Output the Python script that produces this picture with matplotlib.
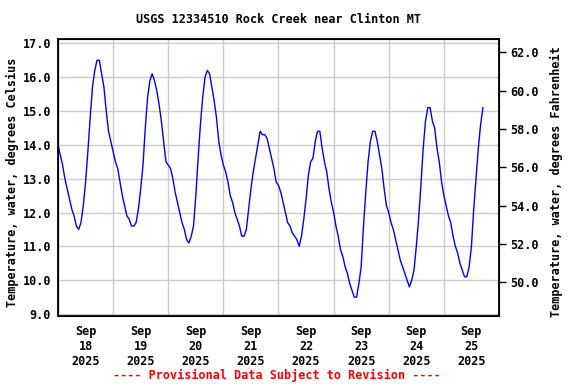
import numpy as np
import pandas as pd
import matplotlib
matplotlib.use('Agg')
import matplotlib.pyplot as plt
import matplotlib.dates as mdates

plt.rcParams['font.family'] = 'DejaVu Sans Mono'
plt.rcParams['font.weight'] = 'bold'

# hourly water temperature (deg C), starting 2025-09-18 00:00
day18 = [14.0, 13.7, 13.4, 13.0, 12.7, 12.4, 12.1, 11.9, 11.6, 11.5, 11.7, 12.2,
         12.9, 13.8, 14.8, 15.7, 16.2, 16.5, 16.5, 16.1, 15.7, 15.0, 14.4, 14.1]
day19 = [13.8, 13.5, 13.3, 12.9, 12.5, 12.2, 11.9, 11.8, 11.6, 11.6, 11.7, 12.1,
         12.7, 13.4, 14.5, 15.4, 15.9, 16.1, 15.9, 15.6, 15.2, 14.7, 14.1, 13.5]
day20 = [13.4, 13.3, 13.0, 12.6, 12.3, 12.0, 11.7, 11.5, 11.2, 11.1, 11.3, 11.6,
         12.5, 13.6, 14.6, 15.4, 16.0, 16.2, 16.1, 15.7, 15.3, 14.8, 14.1, 13.7]
day21 = [13.4, 13.2, 12.9, 12.5, 12.3, 12.0, 11.8, 11.6, 11.3, 11.3, 11.5, 12.1,
         12.7, 13.2, 13.6, 14.0, 14.4, 14.3, 14.3, 14.2, 13.9, 13.6, 13.3, 12.9]
day22 = [12.8, 12.6, 12.3, 12.0, 11.7, 11.6, 11.4, 11.3, 11.2, 11.0, 11.3, 11.8,
         12.4, 13.1, 13.5, 13.6, 14.1, 14.4, 14.4, 13.9, 13.5, 13.2, 12.7, 12.3]
day23 = [12.0, 11.6, 11.3, 10.9, 10.7, 10.4, 10.2, 9.9, 9.7, 9.5, 9.5, 9.9,
         10.4, 11.6, 12.6, 13.5, 14.1, 14.4, 14.4, 14.1, 13.7, 13.3, 12.7, 12.2]
day24 = [12.0, 11.7, 11.5, 11.2, 10.9, 10.6, 10.4, 10.2, 10.0, 9.8, 10.0, 10.3,
         11.0, 11.8, 12.8, 13.9, 14.7, 15.1, 15.1, 14.7, 14.5, 13.9, 13.5, 12.9]
day25 = [12.5, 12.2, 11.9, 11.7, 11.3, 11.0, 10.8, 10.5, 10.3, 10.1, 10.1, 10.4,
         11.0, 12.1, 13.0, 13.9, 14.6, 15.1]

temps = day18 + day19 + day20 + day21 + day22 + day23 + day24 + day25
times = pd.date_range('2025-09-18 00:00', periods=len(temps), freq='h')

day_ticks = pd.date_range('2025-09-18 12:00', periods=8, freq='D')
day_labels = ['Sep\n%d\n2025' % d.day for d in day_ticks]
c_ticks = [9.0, 10.0, 11.0, 12.0, 13.0, 14.0, 15.0, 16.0, 17.0]
f_ticks = [50.0, 52.0, 54.0, 56.0, 58.0, 60.0, 62.0]

fig = plt.figure(figsize=(5.76, 3.84), dpi=100)
ax = fig.add_axes([0.1007, 0.1779, 0.7656, 0.7198])

ax.plot(times, temps, color='#0000ff', linewidth=1.0)

ax.set_xlim(pd.Timestamp('2025-09-18'), pd.Timestamp('2025-09-26'))
ax.set_ylim(8.95, 17.12)
ax.set_yticks(c_ticks)
ax.set_yticklabels(['%.1f' % v for v in c_ticks], fontsize=8.5, fontweight='bold')
ax.set_xticks(day_ticks)
ax.set_xticklabels(day_labels, fontsize=8.5, fontweight='bold', linespacing=1.2)
ax.set_xticks(pd.date_range('2025-09-18', periods=9, freq='D'), minor=True)
ax.tick_params(axis='x', which='both', length=0, pad=7)
ax.tick_params(axis='y', length=0, pad=5)
ax.grid(True, which='minor', axis='x', color='#cccccc', linewidth=1.0)
ax.grid(True, which='major', axis='y', color='#cccccc', linewidth=1.0)
ax.set_axisbelow(True)
for s in ax.spines.values():
    s.set_linewidth(1.3)

ax2 = ax.twinx()
ax2.set_ylim(48.26, 62.68)
ax2.set_yticks(f_ticks)
ax2.set_yticklabels(['%.1f' % v for v in f_ticks], fontsize=8.5, fontweight='bold')
ax2.tick_params(axis='y', length=5, width=1.0, pad=3)

# axis titles, title and footer
fig.text(12 / 576, 1 - 182 / 384, 'Temperature, water, degrees Celsius', rotation=90,
         ha='center', va='center', fontsize=8.5, fontweight='bold')
fig.text(556 / 576, 1 - 182 / 384, 'Temperature, water, degrees Fahrenheit', rotation=90,
         ha='center', va='center', fontsize=8.5, fontweight='bold')
fig.text(0.484, 0.948, 'USGS 12334510 Rock Creek near Clinton MT', ha='center', va='center',
         fontsize=8.5, fontweight='bold')
fig.text(0.481, 0.023, '---- Provisional Data Subject to Revision ----', ha='center',
         va='center', fontsize=8.5, fontweight='bold', color='red')

fig.savefig('out.png', dpi=100)
